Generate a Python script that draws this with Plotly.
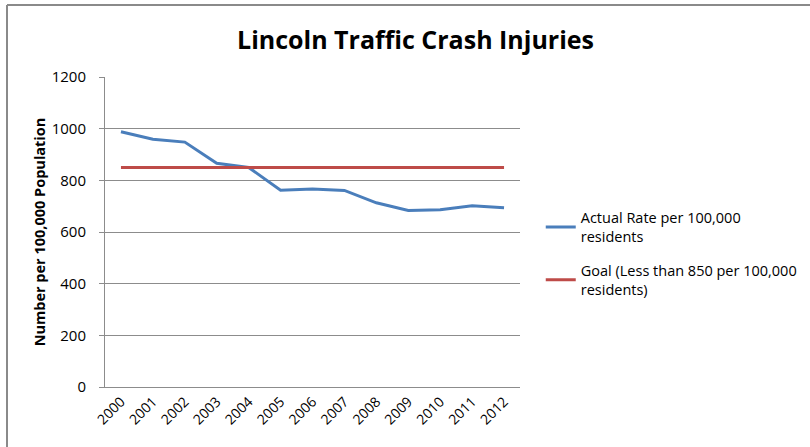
import plotly.graph_objects as go

years = ["2000", "2001", "2002", "2003", "2004", "2005", "2006",
         "2007", "2008", "2009", "2010", "2011", "2012"]
actual_rate = [988, 959, 948, 866, 850, 762, 766, 761, 713, 683, 686, 702, 694]
goal = [850] * len(years)

series_names = ["Actual Rate per 100,000<br>residents",
                "Goal (Less than 850 per 100,000<br>residents)"]

FONT = "Open Sans"
GRID = "#8c8c8c"

fig = go.Figure()
fig.add_trace(go.Scatter(x=years, y=actual_rate, mode="lines", name=series_names[0],
                         legendgroup="actual",
                         line=dict(color="#4a7ebb", width=3)))
fig.add_trace(go.Scatter(x=years, y=goal, mode="lines", name=series_names[1],
                         legendgroup="goal",
                         line=dict(color="#be4b48", width=3)))

fig.update_layout(
    width=810, height=447,
    margin=dict(l=105, r=290, t=77, b=60, autoexpand=False),
    paper_bgcolor="white", plot_bgcolor="white",
    font=dict(family=FONT, size=14, color="#000000"),
    title=dict(text="<b>Lincoln Traffic Crash Injuries</b>",
               font=dict(family=FONT, size=25, color="#000000"),
               x=0.513, xanchor="center", y=0.91, yanchor="middle"),
    legend=dict(x=1.05, xanchor="left", y=0.43, yanchor="middle",
                font=dict(family=FONT, size=14.5), tracegroupgap=12,
                traceorder="grouped",
                itemwidth=30, bgcolor="rgba(0,0,0,0)"),
    showlegend=True,
)

fig.update_xaxes(type="category", showgrid=False, showline=True, linecolor=GRID,
                 linewidth=1, tickangle=-45, ticks="", tickfont=dict(size=14),
                 range=[-0.5, len(years) - 0.5])
fig.update_yaxes(range=[0, 1200], dtick=200, showgrid=True, gridcolor=GRID,
                 gridwidth=1, showline=True, linecolor=GRID, linewidth=1,
                 ticks="outside", ticklen=5, tickcolor=GRID, zeroline=False,
                 tickfont=dict(size=15), ticklabelstandoff=10,
                 title=dict(text="<b>Number per 100,000 Population</b>",
                            font=dict(size=14.5), standoff=2))

# Outer chart frame along the top and left edges
fig.add_shape(type="line", xref="paper", yref="paper",
              x0=(7 - 105) / 415, x1=(815 - 105) / 415,
              y0=(387 - 5) / 310, y1=(387 - 5) / 310,
              line=dict(color="#8a8a8a", width=2))
fig.add_shape(type="line", xref="paper", yref="paper",
              x0=(7 - 105) / 415, x1=(7 - 105) / 415,
              y0=(387 - 5) / 310, y1=(387 - 452) / 310,
              line=dict(color="#8a8a8a", width=2))

fig.write_html("out.html")
